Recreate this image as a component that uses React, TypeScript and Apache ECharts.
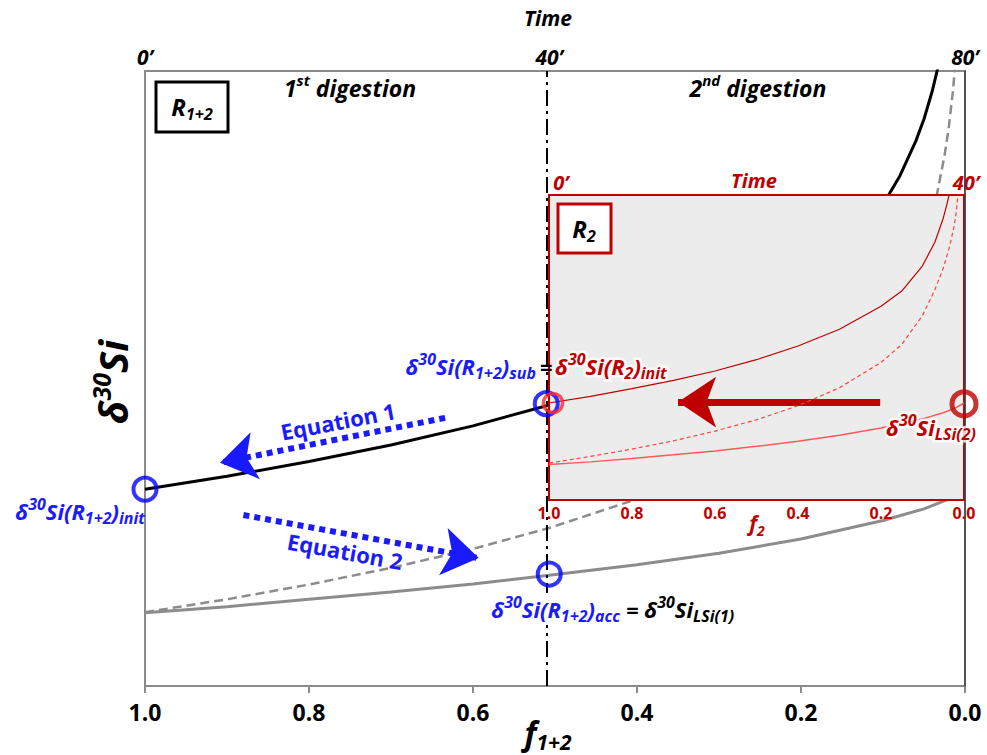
import React, { useEffect, useRef } from 'react';
import * as echarts from 'echarts';

const FONT = "'Open Sans', 'DejaVu Sans', sans-serif";
const BLUE = '#1a1aff';
const DRED = '#c00000';
const RED = '#ff2b2b';
const GRAY = '#8c8c8c';
const FRAME = '#8a8a8a';

// ---------- main panel R(1+2) ----------
const timeTickF = [1.0, 0.507, 0.0];
const timeTickLabels = ['0’', '40’', '80’'];

const fResidual12 = [1.0, 0.9, 0.8, 0.7, 0.6, 0.507, 0.4, 0.3, 0.2, 0.15, 0.1, 0.08, 0.06, 0.05, 0.04, 0.033];
const dResidual12 = [32.0, 34.1, 36.5, 39.2, 42.3, 45.7, 50.4, 56.2, 64.4, 70.1, 78.3, 82.8, 88.6, 92.2, 96.7, 100.6];

const fInstant12 = [1.0, 0.9, 0.8, 0.7, 0.6, 0.507, 0.4, 0.3, 0.2, 0.15, 0.1, 0.07, 0.05, 0.035, 0.025, 0.02, 0.015, 0.012];
const dInstant12 = [12.0, 14.1, 16.5, 19.2, 22.3, 25.7, 30.4, 36.2, 44.4, 50.1, 58.3, 65.5, 72.2, 79.4, 86.2, 90.6, 96.4, 100.9];

const fAcc12 = [1.0, 0.9, 0.8, 0.7, 0.6, 0.507, 0.4, 0.3, 0.2, 0.1, 0.05, 0.02, 0.0];
const dAcc12 = [11.9, 12.9, 14.1, 15.3, 16.6, 18.0, 19.7, 21.6, 23.9, 26.9, 28.8, 30.4, 32.0];

const blueCircles = [[1.0, 32.0], [0.507, 45.9], [0.507, 18.2]];

const eq1Arrow = [[0.634, 43.6], [0.9085, 36.3]];
const eq2Arrow = [[0.880, 27.8], [0.593, 20.8]];

// ---------- inset R2 ----------
const insetTimeTickF = [1.0, 0.0];
const insetTimeTickLabels = ['0’', '40’'];

const fResidual2 = [1.0, 0.9, 0.8, 0.7, 0.6, 0.5, 0.4, 0.3, 0.2, 0.15, 0.1, 0.07, 0.05, 0.04, 0.035];
const dResidual2 = [31.8, 34.0, 36.5, 39.2, 42.3, 46.0, 50.5, 56.0, 63.5, 68.5, 76.8, 84.6, 92.4, 97.6, 100.6];

const fInstant2 = [1.0, 0.9, 0.8, 0.7, 0.6, 0.5, 0.4, 0.3, 0.2, 0.15, 0.1, 0.07, 0.05, 0.035, 0.025, 0.02, 0.014];
const dInstant2 = [12.1, 14.3, 16.7, 19.4, 22.6, 26.3, 30.9, 36.8, 45.1, 51.0, 60.5, 69.0, 76.0, 83.0, 89.0, 93.0, 100.5];

const fAcc2 = [1.0, 0.9, 0.8, 0.7, 0.6, 0.5, 0.4, 0.3, 0.2, 0.1, 0.05, 0.02, 0.0];
const dAcc2 = [11.6, 12.5, 13.6, 14.8, 16.1, 17.6, 19.3, 21.2, 23.6, 26.6, 28.6, 30.2, 31.8];

const redInitCircle = [1.0, 31.8];
const lsi2Circle = [0.0, 31.5];
const r2Arrow = [[0.202, 32.1], [0.689, 32.1]];

// ---------- helpers ----------
const pairs = (f: number[], d: number[]) => f.map((x, i) => [x, d[i]]);
const S = (t: string, s: string) => `{${s}|${t}}`;
const pal: Record<string, string> = { k: '#000000', b: BLUE, r: DRED };

function richSet(size: number, sub: number, opts: { italic?: boolean; glow?: string[] } = {}) {
  const rich: Record<string, any> = {};
  const italic = opts.italic !== false;
  for (const k of Object.keys(pal)) {
    const base: any = { fill: pal[k], fontFamily: FONT, fontWeight: 'bold', fontStyle: italic ? 'italic' : 'normal' };
    if (opts.glow && opts.glow.includes(k)) {
      base.stroke = 'rgba(255,255,255,0.8)';
      base.lineWidth = 5;
    }
    rich[k] = { ...base, fontSize: size, lineHeight: size + 8 };
    rich[k + 'P'] = { ...base, fontSize: sub, lineHeight: sub + 2, verticalAlign: 'top' };
    rich[k + 'B'] = { ...base, fontSize: sub, lineHeight: sub + 2, verticalAlign: 'bottom' };
  }
  return rich;
}

function txt(x: number, y: number, text: string, rich: any, o: any = {}) {
  const align = o.align || 'center';
  const style: any = { text, rich, align, verticalAlign: 'middle', textAlign: align, textVerticalAlign: 'middle' };
  if (o.bg) {
    style.backgroundColor = o.bg;
    style.padding = [1, 3];
  }
  return { type: 'text', x, y, rotation: o.rotation || 0, z: 100, silent: true, style };
}

const R22 = richSet(22, 16);
const R22g = richSet(22, 16, { glow: ['r'] });

const graphicElements = [
  txt(548, 18, S('Time', 'k'), richSet(21, 14)),
  txt(350, 88, S('1', 'k') + S('st', 'kP') + S(' digestion', 'k'), richSet(23, 15)),
  txt(758, 88, S('2', 'k') + S('nd', 'kP') + S(' digestion', 'k'), richSet(23, 15)),
  { type: 'rect', shape: { x: 156, y: 82, width: 72, height: 50 }, style: { fill: '#fff', stroke: '#000', lineWidth: 3 }, z: 100, silent: true },
  txt(192, 106, S('R', 'k') + S('1+2', 'kB'), richSet(24, 16)),
  txt(112, 382, S('δ', 'k') + S('30', 'kP') + S('Si', 'k'), richSet(40, 25), { rotation: Math.PI / 2 }),
  txt(80, 511, S('δ', 'b') + S('30', 'bP') + S('Si(R', 'b') + S('1+2', 'bB') + S(')', 'b') + S('init', 'bB'), R22),
  txt(338, 421, S('Equation 1', 'b'), richSet(22, 14, { italic: false }), { rotation: 0.19 }),
  txt(345, 551, S('Equation 2', 'b'), richSet(22, 14, { italic: false }), { rotation: -0.18 }),
  txt(536, 366, S('δ', 'b') + S('30', 'bP') + S('Si(R', 'b') + S('1+2', 'bB') + S(')', 'b') + S('sub', 'bB'), R22, { align: 'right' }),
  txt(546, 366, S('=', 'k'), R22),
  txt(555, 366, S('δ', 'r') + S('30', 'rP') + S('Si(R', 'r') + S('2', 'rB') + S(')', 'r') + S('init', 'rB'), R22g, { align: 'left' }),
  txt(623, 609, S('δ', 'b') + S('30', 'bP') + S('Si(R', 'b') + S('1+2', 'bB') + S(')', 'b') + S('acc', 'bB'), R22, { bg: '#ffffff', align: 'right' }),
  txt(626, 609, S('= δ', 'k') + S('30', 'kP') + S('Si', 'k') + S('LSi(1)', 'kB'), R22, { align: 'left' }),
  txt(886, 427, S('δ', 'r') + S('30', 'rP') + S('Si', 'r') + S('LSi(2)', 'rB'), R22g, { align: 'left' }),
  { type: 'rect', shape: { x: 558, y: 204, width: 53, height: 49 }, style: { fill: '#fff', stroke: DRED, lineWidth: 3 }, z: 100, silent: true },
  txt(584, 228, S('R', 'k') + S('2', 'kB'), richSet(24, 16)),
  txt(754, 180, S('Time', 'r'), richSet(20, 13)),
  txt(548, 732, S('f', 'k') + S('1+2', 'kB'), richSet(32, 21)),
  txt(757, 523, S('f', 'r') + S('2', 'rB'), richSet(21, 14)),
];

const lineSeries = (name: string, data: number[][], grid: number, color: string, width: number, type: any, z: number) => ({
  name,
  type: 'line',
  xAxisIndex: grid === 0 ? 0 : 2,
  yAxisIndex: grid,
  data,
  showSymbol: false,
  symbol: 'none',
  smooth: false,
  silent: true,
  z,
  lineStyle: { color, width, type },
});

const option: any = {
  animation: false,
  backgroundColor: '#ffffff',
  grid: [
    { left: 145, right: 22, top: 71, bottom: 69, show: true, backgroundColor: 'transparent', borderColor: FRAME, borderWidth: 2, z: 0 },
    { left: 549, right: 23, top: 195, bottom: 255, show: true, backgroundColor: '#ececec', borderColor: DRED, borderWidth: 2, z: 5 },
  ],
  xAxis: [
    {
      type: 'value', gridIndex: 0, position: 'bottom', min: 0, max: 1, interval: 0.2, inverse: true,
      axisLine: { show: true, onZero: false, lineStyle: { color: FRAME, width: 2 } },
      axisTick: { show: true, length: 7, lineStyle: { color: FRAME, width: 2 } },
      axisLabel: { margin: 14, fontSize: 23, fontWeight: 'bold', fontFamily: FONT, color: '#000', formatter: (v: number) => v.toFixed(1) },
      splitLine: { show: false },
    },
    {
      type: 'value', gridIndex: 0, position: 'top', min: 0, max: 1, inverse: true,
      axisLine: { show: false }, axisTick: { show: false }, splitLine: { show: false },
      axisLabel: {
        customValues: timeTickF, margin: 4, fontSize: 21, fontWeight: 'bold', fontStyle: 'italic', fontFamily: FONT, color: '#000',
        formatter: (v: number) => {
          const i = timeTickF.findIndex((t) => Math.abs(t - v) < 1e-6);
          return i >= 0 ? timeTickLabels[i] : '';
        },
      },
    },
    {
      type: 'value', gridIndex: 1, position: 'bottom', min: 0, max: 1, interval: 0.2, inverse: true, z: 6,
      axisLine: { show: true, onZero: false, lineStyle: { color: DRED, width: 2 } },
      axisTick: { show: false }, splitLine: { show: false },
      axisLabel: { margin: 5, fontSize: 16, fontWeight: 'bold', fontFamily: FONT, color: DRED, formatter: (v: number) => v.toFixed(1) },
    },
    {
      type: 'value', gridIndex: 1, position: 'top', min: 0, max: 1, inverse: true, z: 6,
      axisLine: { show: false }, axisTick: { show: false }, splitLine: { show: false },
      axisLabel: {
        customValues: insetTimeTickF, margin: 3, fontSize: 20, fontWeight: 'bold', fontStyle: 'italic', fontFamily: FONT, color: DRED,
        formatter: (v: number) => {
          const i = insetTimeTickF.findIndex((t) => Math.abs(t - v) < 1e-6);
          if (i < 0) return '';
          return i === 0 ? `{l|${insetTimeTickLabels[i]}}` : `{n|${insetTimeTickLabels[i]}}`;
        },
        rich: {
          l: { padding: [0, 0, 0, 24], fontSize: 20, fontWeight: 'bold', fontStyle: 'italic', fontFamily: FONT, color: DRED },
          n: { padding: [0, 0, 0, 4], fontSize: 20, fontWeight: 'bold', fontStyle: 'italic', fontFamily: FONT, color: DRED },
        },
      },
    },
  ],
  yAxis: [
    { type: 'value', gridIndex: 0, min: 0, max: 100, show: false },
    { type: 'value', gridIndex: 1, min: 0, max: 100, show: false },
    {
      type: 'value', gridIndex: 0, position: 'right', min: 0, max: 100, z: 7,
      axisLine: { show: true, onZero: false, lineStyle: { color: '#404040', width: 1.5 } },
      axisTick: { show: false }, axisLabel: { show: false }, splitLine: { show: false },
    },
  ],
  series: [
    lineSeries('acc12', pairs(fAcc12, dAcc12), 0, GRAY, 3, 'solid', 2),
    lineSeries('instant12', pairs(fInstant12, dInstant12), 0, GRAY, 2.5, [9, 5], 2),
    lineSeries('residual12', pairs(fResidual12, dResidual12), 0, '#000', 3, 'solid', 2),
    lineSeries('acc2', pairs(fAcc2, dAcc2), 1, '#ff5a5a', 1.5, 'solid', 6),
    lineSeries('instant2', pairs(fInstant2, dInstant2), 1, '#ff4040', 1.2, [4, 3], 6),
    lineSeries('residual2', pairs(fResidual2, dResidual2), 1, DRED, 1.2, 'solid', 6),
    {
      name: 'divider', type: 'line', xAxisIndex: 0, yAxisIndex: 0, data: [], z: 7, silent: true,
      markLine: {
        silent: true, symbol: ['none', 'none'], label: { show: false },
        lineStyle: { color: '#000', width: 2, type: [16, 5, 3, 5] },
        data: [{ xAxis: timeTickF[1] }],
      },
    },
    {
      name: 'eqArrows', type: 'line', xAxisIndex: 0, yAxisIndex: 0, data: [], z: 9, silent: true,
      markLine: {
        silent: true, symbol: ['none', 'arrow'], symbolSize: 36, label: { show: false },
        lineStyle: { color: BLUE, width: 6, type: [6, 5] },
        data: [
          [{ coord: eq1Arrow[0] }, { coord: eq1Arrow[1] }],
          [{ coord: eq2Arrow[0] }, { coord: eq2Arrow[1] }],
        ],
      },
    },
    {
      name: 'r2Arrow', type: 'line', xAxisIndex: 2, yAxisIndex: 1, data: [], z: 9, silent: true,
      markLine: {
        silent: true, symbol: ['none', 'arrow'], symbolSize: 38, label: { show: false },
        lineStyle: { color: DRED, width: 7, type: 'solid' },
        data: [[{ coord: r2Arrow[0] }, { coord: r2Arrow[1] }]],
      },
    },
    {
      name: 'blueCircles', type: 'scatter', xAxisIndex: 0, yAxisIndex: 0, z: 8, silent: true,
      symbol: 'circle', symbolSize: 23,
      itemStyle: { color: 'rgba(0,0,0,0)', borderColor: '#0000ff', borderWidth: 4 },
      data: [
        { value: blueCircles[0] },
        { value: blueCircles[1], symbolOffset: [-3, 0] },
        { value: blueCircles[2] },
      ],
    },
    {
      name: 'redCircles', type: 'scatter', xAxisIndex: 2, yAxisIndex: 1, z: 9, silent: true, clip: false,
      symbol: 'circle',
      data: [
        { value: redInitCircle, symbolSize: 19, symbolOffset: [4, 0], itemStyle: { color: 'rgba(0,0,0,0)', borderColor: RED, borderWidth: 3.5 } },
        { value: lsi2Circle, symbolSize: 24, itemStyle: { color: 'rgba(0,0,0,0)', borderColor: DRED, borderWidth: 5 } },
      ],
    },
  ],
  graphic: { elements: graphicElements },
};

export default function App() {
  const ref = useRef<HTMLDivElement>(null);
  useEffect(() => {
    const chart = echarts.init(ref.current!, null, { renderer: 'svg' });
    chart.setOption(option);
    return () => chart.dispose();
  }, []);
  return (
    <div
      ref={ref}
      style={{ position: 'fixed', left: 0, top: 0, width: 987, height: 755, background: '#fff' }}
    />
  );
}
